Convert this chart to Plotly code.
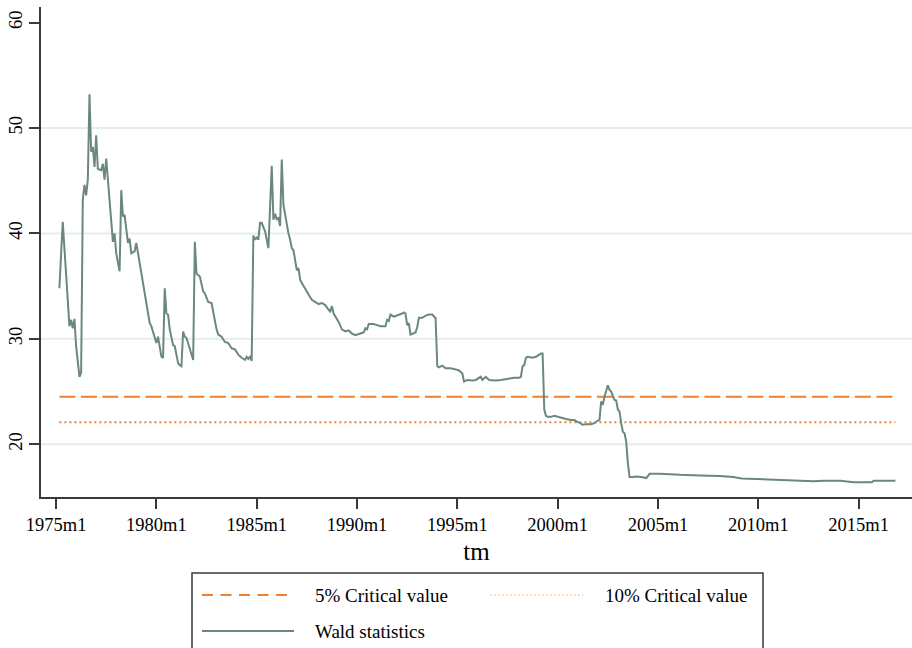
import plotly.graph_objects as go

# Monthly Wald statistics (Stata-style "YYYYmM" dates)
months = [
    "1975m3", "1975m5", "1975m9", "1975m10", "1975m11", "1975m12", "1976m1", "1976m3",
    "1976m4", "1976m5", "1976m6", "1976m7", "1976m8", "1976m9", "1976m10", "1976m11",
    "1976m12", "1977m1", "1977m2", "1977m4", "1977m5", "1977m6", "1977m7", "1977m8",
    "1977m9", "1977m11", "1977m12", "1978m1", "1978m3", "1978m4", "1978m5", "1978m6",
    "1978m8", "1978m9", "1978m10", "1978m12", "1979m1", "1979m3", "1979m6", "1979m9",
    "1979m10", "1980m1", "1980m2", "1980m4", "1980m5", "1980m6", "1980m7", "1980m8",
    "1980m9", "1980m11", "1980m12", "1981m2", "1981m3", "1981m4", "1981m5", "1981m6",
    "1981m7", "1981m9", "1981m10", "1981m11", "1981m12", "1982m1", "1982m3", "1982m4",
    "1982m5", "1982m6", "1982m8", "1982m10", "1982m12", "1983m1", "1983m2", "1983m4",
    "1983m6", "1983m8", "1983m10", "1983m12", "1984m2", "1984m4", "1984m6", "1984m7",
    "1984m8", "1984m9", "1984m10", "1984m11", "1984m12", "1985m1", "1985m2", "1985m3",
    "1985m4", "1985m6", "1985m8", "1985m10", "1985m11", "1985m12", "1986m1", "1986m2",
    "1986m3", "1986m4", "1986m5", "1986m6", "1986m8", "1986m9", "1986m10", "1986m11",
    "1986m12", "1987m1", "1987m2", "1987m3", "1987m4", "1987m6", "1987m8", "1987m10",
    "1987m12", "1988m2", "1988m4", "1988m6", "1988m8", "1988m9", "1988m10", "1988m11",
    "1989m2", "1989m4", "1989m6", "1989m8", "1989m10", "1989m12", "1990m3", "1990m5",
    "1990m6", "1990m7", "1990m8", "1990m11", "1991m1", "1991m3", "1991m6", "1991m7",
    "1991m8", "1991m9", "1991m11", "1992m1", "1992m4", "1992m5", "1992m6", "1992m7",
    "1992m8", "1992m9", "1992m11", "1992m12", "1993m1", "1993m2", "1993m4", "1993m6",
    "1993m8", "1993m10", "1993m12", "1994m1", "1994m2", "1994m4", "1994m6", "1994m9",
    "1994m12", "1995m2", "1995m4", "1995m5", "1995m7", "1995m10", "1995m12", "1996m3",
    "1996m4", "1996m6", "1996m8", "1996m12", "1997m3", "1997m7", "1997m11", "1998m2",
    "1998m3", "1998m4", "1998m5", "1998m6", "1998m7", "1998m10", "1998m12", "1999m3",
    "1999m4", "1999m5", "1999m6", "1999m7", "1999m9", "1999m11", "2000m1", "2000m3",
    "2000m6", "2000m9", "2000m11", "2001m1", "2001m2", "2001m4", "2001m6", "2001m9",
    "2001m11", "2002m1", "2002m2", "2002m3", "2002m4", "2002m5", "2002m7", "2002m8",
    "2002m9", "2002m11", "2002m12", "2003m1", "2003m2", "2003m3", "2003m4", "2003m5",
    "2003m6", "2003m7", "2003m8", "2003m10", "2003m12", "2004m3", "2004m6", "2004m8",
    "2005m2", "2006m2", "2006m6", "2007m2", "2008m2", "2008m10", "2009m3", "2010m2",
    "2011m4", "2012m4", "2012m10", "2013m4", "2014m2", "2014m10", "2015m9", "2015m10",
    "2016m11",
]

wald = [
    34.8, 41.1, 31.2, 31.8, 31.0, 31.9, 29.3, 26.4,
    26.75, 43.2, 44.6, 43.6, 45.1, 53.2, 47.75, 48.2,
    46.3, 49.3, 46.1, 46.0, 46.6, 45.1, 47.1, 45.1,
    42.9, 39.2, 40.0, 38.1, 36.4, 44.1, 41.6, 41.75,
    39.1, 39.5, 38.1, 38.3, 39.1, 37.2, 34.3, 31.5,
    31.2, 29.6, 30.2, 28.3, 28.2, 34.8, 32.4, 32.3,
    30.9, 29.4, 29.3, 27.7, 27.5, 27.4, 30.7, 30.2,
    30.1, 29.1, 28.6, 28.0, 39.2, 36.2, 35.9, 35.3,
    34.5, 34.3, 33.5, 33.4, 31.6, 30.9, 30.4, 30.2,
    29.7, 29.6, 29.1, 29.0, 28.5, 28.2, 28.0, 28.3,
    28.1, 28.3, 27.9, 39.8, 39.4, 39.6, 39.4, 41.0,
    41.0, 40.2, 38.6, 46.4, 41.3, 41.85, 41.35, 41.45,
    40.7, 47.0, 42.7, 41.7, 40.0, 39.4, 38.6, 38.4,
    37.5, 36.5, 36.7, 35.6, 35.3, 34.7, 34.2, 33.7,
    33.5, 33.3, 33.4, 33.2, 32.75, 32.6, 33.1, 32.4,
    31.6, 30.9, 30.7, 30.8, 30.5, 30.35, 30.5, 30.6,
    31.0, 30.9, 31.4, 31.4, 31.3, 31.2, 31.2, 31.8,
    31.7, 32.3, 32.1, 32.2, 32.4, 32.5, 32.4, 31.3,
    31.5, 30.4, 30.5, 30.6, 31.1, 32.0, 32.0, 32.2,
    32.3, 32.3, 31.95, 27.4, 27.3, 27.45, 27.2, 27.2,
    27.1, 27.0, 26.7, 25.95, 26.1, 26.05, 26.1, 26.4,
    26.1, 26.4, 26.1, 26.05, 26.1, 26.2, 26.3, 26.3,
    26.4, 27.4, 27.5, 28.2, 28.3, 28.2, 28.3, 28.6,
    28.6, 23.3, 22.7, 22.6, 22.6, 22.7, 22.6, 22.5,
    22.4, 22.3, 22.3, 22.1, 22.05, 21.85, 21.9, 21.9,
    22.0, 22.25, 22.3, 24.05, 23.75, 24.5, 25.6, 25.15,
    25.0, 24.2, 24.15, 23.3, 23.1, 22.0, 21.2, 21.05,
    20.25, 18.2, 16.9, 16.9, 16.95, 16.9, 16.8, 17.2,
    17.2, 17.1, 17.1, 17.05, 17.0, 16.9, 16.75, 16.7,
    16.65, 16.55, 16.5, 16.55, 16.55, 16.4, 16.4, 16.55,
    16.55,
]

crit_5 = 24.5
crit_10 = 22.1

x_tick_labels = ["1975m1", "1980m1", "1985m1", "1990m1", "1995m1",
                 "2000m1", "2005m1", "2010m1", "2015m1"]
y_ticks = [20, 30, 40, 50, 60]
grid_levels = [20, 30, 40, 50]

legend_labels = ["5% Critical value", "10% Critical value", "Wald statistics"]


def to_year(tm):
    """Convert a Stata monthly label like '1984m7' to a decimal year."""
    year, month = tm.split("m")
    return int(year) + (int(month) - 1) / 12.0


x = [to_year(m) for m in months]
x_ticks = [to_year(t) for t in x_tick_labels]

WALD_COLOR = "#6b887c"
CRIT_COLOR = "#f0802f"
AXIS_COLOR = "#3a3a3a"
GRID_COLOR = "#e6edf1"
FONT = "Liberation Serif, Times New Roman, serif"

W, H = 912, 648
M_L, M_R, M_T, M_B = 41, 0, 7, 151
PLOT_W = W - M_L - M_R
PLOT_H = H - M_T - M_B


def px_x(px):
    return (px - M_L) / PLOT_W


def px_y(py):
    return (H - M_B - py) / PLOT_H


fig = go.Figure()

fig.add_trace(go.Scatter(
    x=[x[0], x[-1]], y=[crit_5, crit_5], mode="lines",
    line=dict(color=CRIT_COLOR, width=2, dash="16px,5.5px"),
    name=legend_labels[0], showlegend=False, hoverinfo="skip",
))
fig.add_trace(go.Scatter(
    x=[x[0], x[-1]], y=[crit_10, crit_10], mode="lines",
    line=dict(color=CRIT_COLOR, width=2, dash="2px,3px"),
    name=legend_labels[1], showlegend=False, hoverinfo="skip",
))
fig.add_trace(go.Scatter(
    x=x, y=wald, mode="lines",
    line=dict(color=WALD_COLOR, width=2),
    name=legend_labels[2], showlegend=False,
))

shapes = []
for g in grid_levels:
    shapes.append(dict(
        type="line", xref="paper", yref="y", x0=0, x1=1, y0=g, y1=g,
        line=dict(color=GRID_COLOR, width=2), layer="below",
    ))

# Legend box drawn below the plot
box_l, box_r, box_t, box_b = 192, 763, 573, 670
shapes.append(dict(
    type="rect", xref="paper", yref="paper",
    x0=px_x(box_l), x1=px_x(box_r), y0=px_y(box_b), y1=px_y(box_t),
    line=dict(color=AXIS_COLOR, width=1.5), fillcolor="white",
))

row1, row2 = 595, 631
legend_items = [
    (202, 294, row1, dict(color=CRIT_COLOR, width=2, dash="11px,7.5px"), 313, legend_labels[0]),
    (490, 583, row1, dict(color="#f4a470", width=1.2, dash="1.5px,2.5px"), 603, legend_labels[1]),
    (202, 294, row2, dict(color=WALD_COLOR, width=2), 313, legend_labels[2]),
]
annotations = []
for x0, x1, yy, ln, tx, label in legend_items:
    shapes.append(dict(
        type="line", xref="paper", yref="paper",
        x0=px_x(x0), x1=px_x(x1), y0=px_y(yy), y1=px_y(yy), line=ln,
    ))
    annotations.append(dict(
        xref="paper", yref="paper", x=px_x(tx), y=px_y(yy),
        xanchor="left", yanchor="middle", showarrow=False,
        text=label, font=dict(family=FONT, size=19, color="black"),
    ))

fig.update_layout(
    width=W, height=H,
    margin=dict(l=M_L, r=M_R, t=M_T, b=M_B),
    paper_bgcolor="white", plot_bgcolor="white",
    font=dict(family=FONT, size=18, color="black"),
    shapes=shapes, annotations=annotations,
    showlegend=False,
    xaxis=dict(
        range=[1974.25, 2017.66],
        tickvals=x_ticks, ticktext=x_tick_labels,
        ticks="outside", ticklen=10, tickwidth=1.5, tickcolor=AXIS_COLOR,
        showline=True, linecolor=AXIS_COLOR, linewidth=2,
        showgrid=False, zeroline=False,
        tickfont=dict(family=FONT, size=18.5, color="black"),
        title=dict(text="tm", font=dict(family=FONT, size=25, color="black"), standoff=8),
    ),
    yaxis=dict(
        range=[15, 61.47],
        tickvals=y_ticks, tickangle=-90,
        ticks="outside", ticklen=10, tickwidth=1.5, tickcolor=AXIS_COLOR,
        showline=True, linecolor=AXIS_COLOR, linewidth=2,
        showgrid=False, zeroline=False,
        tickfont=dict(family=FONT, size=18.5, color="black"),
    ),
)

fig.write_html("out.html")
